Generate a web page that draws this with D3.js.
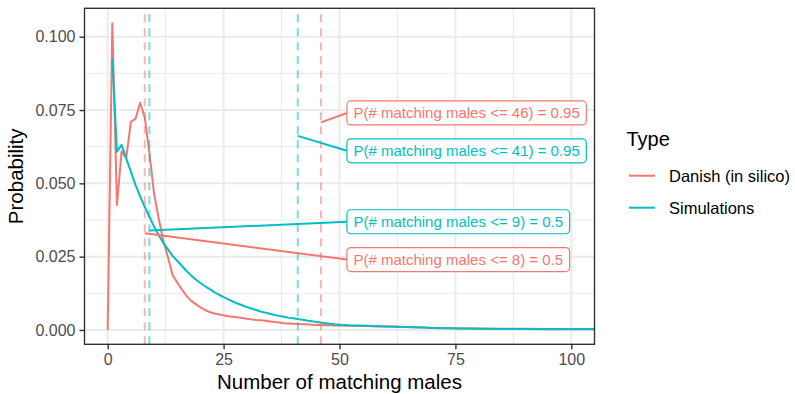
<!DOCTYPE html>
<meta charset="utf-8">
<script src="https://d3js.org/d3.v7.min.js"></script>
<style>
  body { margin: 0; background: #fff; }
  text { font-family: "Liberation Sans", Arial, sans-serif; }
</style>
<div id="chart"></div>
<script>

// ---- data ----
var danishX = [0,1,2,3,4,5,6,7,8,9,10,11,12,13,14,15,16,17,18,19,20,21,22,23,24,25,26,27,28,29,30,
  31,32,33,34,35,36,37,38,39,40,41,42,43,44,45,46,47,48,49,50,52,54,56,58,60,62,64,66,68,70,72,74,76,78,80,85,90,95,100,105,110];
var danishP = [0,0.1046,0.0426,0.0609,0.0586,0.0710,0.0720,0.0775,0.0725,0.0605,0.0466,0.0380,0.0305,0.0248,0.0187,0.0162,0.0138,0.0116,0.0099,0.0088,0.0077,
  0.0068,0.0061,0.0056,0.0053,0.0050,0.0047,0.0045,0.0043,0.0041,0.0038,
  0.0036,0.0034,0.0033,0.0031,0.0029,0.0027,0.0025,0.0023,0.0022,0.0021,0.0020,0.0019,0.0019,0.0018,0.0017,0.0017,0.0016,0.0016,0.0015,0.0015,
  0.0014,0.0013,0.0013,0.0012,0.0012,0.0012,0.0010,0.0009,0.0008,0.0007,0.0007,0.0006,0.0005,0.0005,0.0005,0.0004,0.0004,0.0003,0.0003,0.0003,0.0002];

var simX = [1,2,3,4,5,6,7,8,9,10,11,12,13,14,15,16,17,18,19,20,21,22,23,24,25,26,27,28,29,30,
  31,32,33,34,35,36,37,38,39,40,41,42,43,44,45,46,47,48,49,50,52,54,56,58,60,62,64,66,68,70,72,74,76,78,80,85,90,95,100,105,110];
var simP = [0.0925,0.0608,0.0631,0.0585,0.0540,0.0495,0.0456,0.0420,0.0386,0.0353,0.0323,0.0297,0.0275,0.0252,0.0236,0.0219,0.0201,0.0186,0.0172,0.0160,
  0.0149,0.0139,0.0129,0.0120,0.0112,0.0104,0.0097,0.0090,0.0084,0.0078,
  0.0073,0.0068,0.0063,0.0059,0.0055,0.0051,0.0048,0.0045,0.0042,0.0040,0.0037,0.0035,0.0032,0.0030,0.0027,0.0025,0.0023,0.0021,0.0019,0.0018,
  0.0016,0.0015,0.0014,0.0013,0.0012,0.0011,0.0010,0.0009,0.0008,0.0007,0.0006,0.0006,0.0005,0.0005,0.0004,0.0003,0.0003,0.0002,0.0002,0.0002,0.0001];

var types = ["Danish (in silico)", "Simulations"];
var colors = ["#F8766D", "#00BFC4"];

// quantile lines and their labels
var qType = [0, 1, 1, 0];
var qValue = [46, 41, 9, 8];
var qProb = [0.95, 0.95, 0.5, 0.5];
var qAnchorY = [0.0708, 0.0662, 0.0339, 0.0330];   // where the segment starts
var qLabelX = [51.6, 51.6, 51.6, 51.6];            // left edge of label box
var qLabelY = [0.0740, 0.0611, 0.0369, 0.0240];    // centre of label box

var xTicks = [0, 25, 50, 75, 100];
var xMinor = [12.5, 37.5, 62.5, 87.5];
var yTicks = [0, 0.025, 0.05, 0.075, 0.1];
var yMinor = [0.0125, 0.0375, 0.0625, 0.0875];

// ---- layout ----
var W = 795, H = 394;
var panel = {left: 84.5, right: 594.5, top: 8.3, bottom: 344.3};

var svg = d3.select("#chart").append("svg")
    .attr("width", W).attr("height", H);

var x = d3.scaleLinear().domain([-5, 105]).range([panel.left, panel.right]);
var y = d3.scaleLinear().domain([-0.0049, 0.1097]).range([panel.bottom, panel.top]);

svg.append("clipPath").attr("id", "clip")
  .append("rect")
    .attr("x", panel.left).attr("y", panel.top)
    .attr("width", panel.right - panel.left).attr("height", panel.bottom - panel.top);

// gridlines
var grid = svg.append("g");
grid.selectAll(".xminor").data(xMinor).enter().append("line")
    .attr("x1", d => x(d)).attr("x2", d => x(d))
    .attr("y1", panel.top).attr("y2", panel.bottom)
    .attr("stroke", "#ebebeb").attr("stroke-width", 1);
grid.selectAll(".yminor").data(yMinor).enter().append("line")
    .attr("y1", d => y(d)).attr("y2", d => y(d))
    .attr("x1", panel.left).attr("x2", panel.right)
    .attr("stroke", "#ebebeb").attr("stroke-width", 1);
grid.selectAll(".xmajor").data(xTicks).enter().append("line")
    .attr("x1", d => x(d)).attr("x2", d => x(d))
    .attr("y1", panel.top).attr("y2", panel.bottom)
    .attr("stroke", "#ebebeb").attr("stroke-width", 2);
grid.selectAll(".ymajor").data(yTicks).enter().append("line")
    .attr("y1", d => y(d)).attr("y2", d => y(d))
    .attr("x1", panel.left).attr("x2", panel.right)
    .attr("stroke", "#ebebeb").attr("stroke-width", 2);

var plot = svg.append("g").attr("clip-path", "url(#clip)");

// curves
var line = d3.line().x(d => x(d[0])).y(d => y(d[1]));
var series = [d3.zip(danishX, danishP), d3.zip(simX, simP)];
plot.selectAll(".curve").data(series).enter().append("path")
    .attr("d", line)
    .attr("fill", "none")
    .attr("stroke", (d, i) => colors[i])
    .attr("stroke-width", 2)
    .attr("stroke-linejoin", "round");

// dashed quantile lines
plot.selectAll(".vline").data(qValue).enter().append("line")
    .attr("x1", d => x(d)).attr("x2", d => x(d))
    .attr("y1", panel.bottom).attr("y2", panel.top)
    .attr("stroke", (d, i) => colors[qType[i]])
    .attr("stroke-opacity", 0.55)
    .attr("stroke-width", 2)
    .attr("stroke-dasharray", "8,6");

// labels with segments
var labels = svg.append("g");
qValue.forEach(function(v, i) {
  var c = colors[qType[i]];
  var bx = x(qLabelX[i]), by = y(qLabelY[i]);
  labels.append("line")
      .attr("x1", x(v)).attr("y1", y(qAnchorY[i]))
      .attr("x2", bx).attr("y2", by)
      .attr("stroke", c).attr("stroke-width", 2);
  var g = labels.append("g");
  var rect = g.append("rect");
  var t = g.append("text")
      .attr("x", bx + 6.5).attr("y", by + 5.3)
      .attr("fill", c)
      .style("font-size", "15px")
      .text("P(# matching males <= " + v + ") = " + qProb[i]);
  var tw = t.node().getComputedTextLength();
  rect.attr("x", bx).attr("y", by - 12)
      .attr("width", tw + 13).attr("height", 24)
      .attr("rx", 4).attr("ry", 4)
      .attr("fill", "white").attr("stroke", c).attr("stroke-width", 1.2);
});

// panel border
svg.append("rect")
    .attr("x", panel.left).attr("y", panel.top)
    .attr("width", panel.right - panel.left).attr("height", panel.bottom - panel.top)
    .attr("fill", "none").attr("stroke", "#333333").attr("stroke-width", 1.4);

// axes
var xAxis = svg.append("g")
    .attr("transform", "translate(0," + panel.bottom + ")")
    .call(d3.axisBottom(x).tickValues(xTicks).tickSize(5).tickPadding(4).tickFormat(d3.format("d")));
var yAxis = svg.append("g")
    .attr("transform", "translate(" + panel.left + ",0)")
    .call(d3.axisLeft(y).tickValues(yTicks).tickSize(5).tickPadding(4).tickFormat(d3.format(".3f")));
[xAxis, yAxis].forEach(function(a) {
  a.select(".domain").remove();
  a.selectAll(".tick line").attr("stroke", "#333333").attr("stroke-width", 1.4);
  a.selectAll(".tick text").attr("fill", "#4d4d4d")
      .style("font-size", "16px").style("font-family", "Liberation Sans, Arial, sans-serif");
});

// axis titles
svg.append("text")
    .attr("x", (panel.left + panel.right) / 2).attr("y", 388.5)
    .attr("text-anchor", "middle")
    .style("font-size", "20.5px")
    .text("Number of matching males");
svg.append("text")
    .attr("transform", "translate(23," + ((panel.top + panel.bottom) / 2) + ") rotate(-90)")
    .attr("text-anchor", "middle")
    .style("font-size", "20.5px")
    .text("Probability");

// legend
var legend = svg.append("g");
legend.append("text")
    .attr("x", 626.5).attr("y", 146)
    .style("font-size", "20px")
    .text("Type");
var keyY = [175.7, 207.7];
types.forEach(function(name, i) {
  legend.append("line")
      .attr("x1", 629).attr("x2", 655)
      .attr("y1", keyY[i]).attr("y2", keyY[i])
      .attr("stroke", colors[i]).attr("stroke-width", 2);
  legend.append("text")
      .attr("x", 669).attr("y", keyY[i] + 5.8)
      .style("font-size", "16.5px")
      .text(name);
});
</script>
